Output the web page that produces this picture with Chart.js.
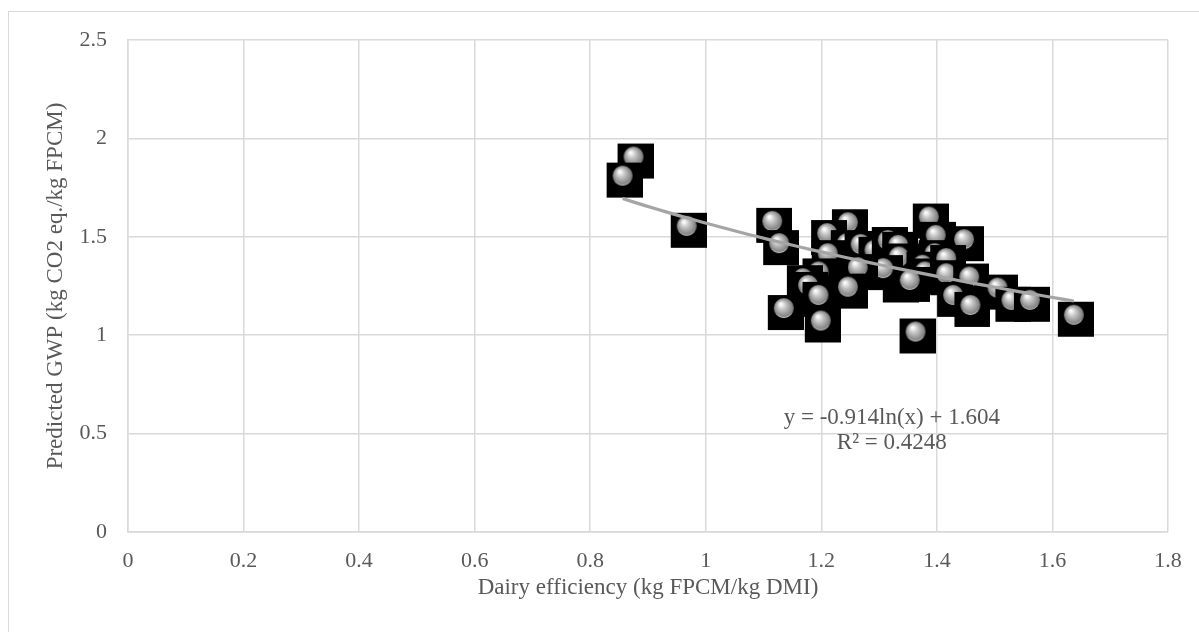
<!DOCTYPE html>
<html>
<head>
<meta charset="utf-8">
<script src="https://cdn.jsdelivr.net/npm/chart.js@4.4.1/dist/chart.umd.min.js"></script>
<style>
  html, body { margin: 0; padding: 0; background: #fff; overflow: hidden; }
  #wrap { position: relative; width: 1199px; height: 632px; }
  #frame { position: absolute; left: 8px; top: 11px; width: 1200px; height: 640px; border: 1px solid #d9d9d9; box-sizing: border-box; }
  canvas { position: absolute; left: 0; top: 0; }
</style>
</head>
<body>
<div id="wrap">
  <div id="frame"></div>
  <canvas id="myChart" width="1199" height="632"></canvas>
</div>
<script>
'use strict'

// dairy efficiency (kg FPCM/kg DMI)
const efficiency = [
  0.875, 0.856, 0.967, 1.115, 1.127, 1.246, 1.210, 1.244, 1.268, 1.292,
  1.315, 1.333, 1.334, 1.386, 1.398, 1.396, 1.375, 1.379, 1.334, 1.307,
  1.263, 1.246, 1.211, 1.195, 1.168, 1.177, 1.195, 1.135, 1.199, 1.363,
  1.447, 1.416, 1.416, 1.456, 1.428, 1.458, 1.505, 1.529, 1.561, 1.637,
  1.353
];
// predicted GWP (kg CO2 eq./kg FPCM)
const gwp = [
  1.908, 1.811, 1.556, 1.581, 1.468, 1.574, 1.519, 1.468, 1.464, 1.434,
  1.484, 1.459, 1.400, 1.603, 1.510, 1.417, 1.358, 1.324, 1.278, 1.341,
  1.346, 1.247, 1.417, 1.324, 1.290, 1.256, 1.205, 1.138, 1.075, 1.019,
  1.488, 1.392, 1.315, 1.298, 1.205, 1.154, 1.242, 1.180, 1.180, 1.104,
  1.281
];

const xTicks = [0, 0.2, 0.4, 0.6, 0.8, 1, 1.2, 1.4, 1.6, 1.8];
const yTicks = [0, 0.5, 1, 1.5, 2, 2.5];
const trendLabel = ['y = -0.914ln(x) + 1.604', 'R² = 0.4248'];

const txt = '#595959';
const grid = '#d9d9d9';
const serif = "'Liberation Serif', 'Times New Roman', serif";

// marker: black square with a shaded grey ball
const makeMarker = () =>{
  const c = document.createElement('canvas');
  c.width = 40; c.height = 46;
  const g = c.getContext('2d');
  g.fillStyle = '#000';
  g.fillRect(4, 10, 36, 35);
  const grad = g.createRadialGradient(17, 19, 1, 20, 23, 10.5);
  grad.addColorStop(0, '#fbfbfb');
  grad.addColorStop(0.35, '#c4c4c4');
  grad.addColorStop(0.8, '#8a8a8a');
  grad.addColorStop(1, '#6e6e6e');
  g.fillStyle = grad;
  g.beginPath();
  g.arc(20, 23, 10, 0, Math.PI * 2);
  g.fill();
  g.strokeStyle = 'rgba(230,230,230,0.7)';
  g.lineWidth = 1;
  g.beginPath();
  g.arc(20, 23, 9.5, Math.PI * 0.2, Math.PI * 0.8);
  g.stroke();
  return c;
}

// logarithmic least squares trendline through the points
const logFit = () =>{
  const n = efficiency.length;
  let sx = 0, sy = 0, sxx = 0, sxy = 0;
  for (let i = 0; i < n; i++){
    const lx = Math.log(efficiency[i]);
    sx += lx; sy += gwp[i]; sxx += lx * lx; sxy += lx * gwp[i];
  }
  const a = (n * sxy - sx * sy) / (n * sxx - sx * sx);
  const b = (sy - a * sx) / n;
  const lo = Math.min(...efficiency), hi = Math.max(...efficiency);
  const pts = [];
  for (let k = 0; k <= 40; k++){
    const x = lo + (hi - lo) * k / 40;
    pts.push({x: x, y: a * Math.log(x) + b});
  }
  return pts;
}

const points = efficiency.map((v, i) => ({x: v, y: gwp[i]}));

const trendText = {
  id: 'trendText',
  afterDatasetsDraw(chart){
    const {ctx, scales} = chart;
    const cx = scales.x.getPixelForValue(1.322);
    ctx.save();
    ctx.font = '23px ' + serif;
    ctx.fillStyle = txt;
    ctx.textAlign = 'center';
    ctx.textBaseline = 'middle';
    ctx.fillText(trendLabel[0], cx, scales.y.getPixelForValue(0.580));
    ctx.fillText(trendLabel[1], cx, scales.y.getPixelForValue(0.454));
    ctx.restore();
  }
};

const fmt = v => Number(v.toFixed(1)).toString();

new Chart(document.getElementById('myChart'), {
  type: 'scatter',
  data: {
    datasets: [
      {
        type: 'line',
        data: logFit(),
        borderColor: '#a5a5a5',
        borderWidth: 3.2,
        pointRadius: 0,
        tension: 0,
        order: 0
      },
      {
        data: points,
        pointStyle: makeMarker(),
        pointRadius: 10,
        order: 1
      }
    ]
  },
  options: {
    responsive: false,
    animation: false,
    events: [],
    layout: { padding: {left: 0, top: 40, right: 31, bottom: 0} },
    plugins: { legend: {display: false}, tooltip: {enabled: false} },
    scales: {
      x: {
        type: 'linear', min: 0, max: 1.8,
        afterFit: s => { s.height = 100; },
        afterBuildTicks: s => { s.ticks = xTicks.map(v => ({value: v})); },
        ticks: { color: txt, font: {family: serif, size: 22}, padding: 16, callback: fmt, maxRotation: 0 },
        grid: { color: grid, lineWidth: 1.5, drawTicks: false },
        border: { color: grid, width: 1.5 },
        title: { display: true, text: 'Dairy efficiency (kg FPCM/kg DMI)', color: txt,
                 font: {family: serif, size: 23}, padding: {top: 0, bottom: 30} }
      },
      y: {
        type: 'linear', min: 0, max: 2.5,
        afterFit: s => { s.width = 128; },
        afterBuildTicks: s => { s.ticks = yTicks.map(v => ({value: v})); },
        ticks: { color: txt, font: {family: serif, size: 22}, padding: 21, callback: fmt },
        grid: { color: grid, lineWidth: 1.5, drawTicks: false },
        border: { color: grid, width: 1.5 },
        title: { display: true, text: 'Predicted GWP (kg CO2 eq./kg FPCM)', color: txt,
                 font: {family: serif, size: 23}, padding: {top: 42, bottom: 0} }
      }
    }
  },
  plugins: [trendText]
});
</script>
</body>
</html>
